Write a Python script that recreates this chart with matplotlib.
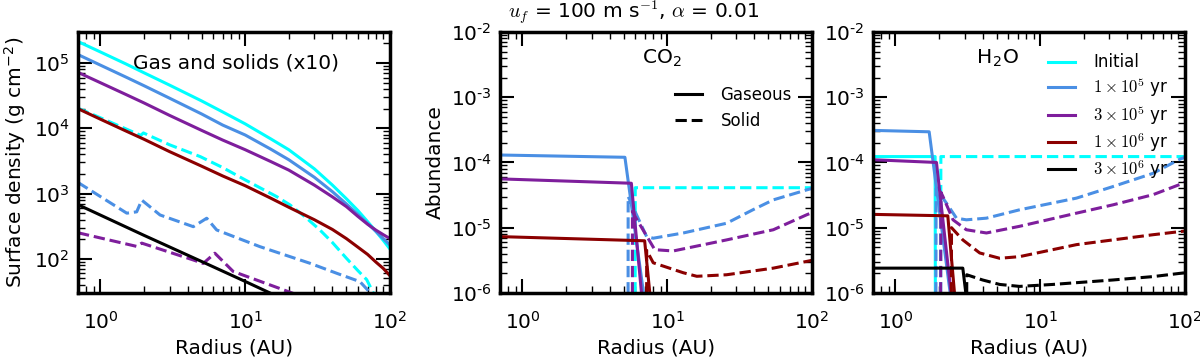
import numpy as np
import matplotlib
matplotlib.use('Agg')
import matplotlib.pyplot as plt
from matplotlib.ticker import FixedLocator, LogLocator, NullFormatter

plt.rcParams['font.family'] = 'DejaVu Sans'
plt.rcParams['font.size'] = 14.5
plt.rcParams['mathtext.fontset'] = 'cm'
plt.rcParams['axes.linewidth'] = 2.5
plt.rcParams['lines.linewidth'] = 2.2
for ax_ in ['xtick', 'ytick']:
    plt.rcParams[ax_ + '.direction'] = 'in'
    plt.rcParams[ax_ + '.major.size'] = 10
    plt.rcParams[ax_ + '.minor.size'] = 5
    plt.rcParams[ax_ + '.major.width'] = 1.5
    plt.rcParams[ax_ + '.minor.width'] = 1.0
plt.rcParams['xtick.top'] = True
plt.rcParams['ytick.right'] = True
plt.rcParams['xtick.major.pad'] = 13
plt.rcParams['ytick.major.pad'] = 6

# colours per time
c_init = 'cyan'
c_1e5 = '#4a8fe4'
c_3e5 = '#7e1e9c'
c_1e6 = '#8b0000'
c_3e6 = 'black'

# ---- panel 1: surface density (gas solid, solids x10 dashed)
r_gas = [0.7, 1, 1.5, 2, 3, 5, 7, 10, 15, 20, 30, 40, 50, 60, 70, 80, 90, 100]
gas_init = [2.14e5, 1.48e5, 9.7e4, 7.1e4, 4.6e4, 2.63e4, 1.78e4, 1.17e4, 6.9e3, 4.7e3,
            2.4e3, 1.35e3, 832, 550, 372, 263, 191, 141]
gas_1e5 = [1.35e5, 9.3e4, 6.1e4, 4.5e4, 2.9e4, 1.66e4, 1.12e4, 7.9e3, 4.8e3, 3.3e3,
           1.78e3, 1.07e3, 692, 479, 347, 263, 204, 162]
gas_3e5 = [7.2e4, 5.0e4, 3.3e4, 2.45e4, 1.58e4, 9.3e3, 6.6e3, 4.7e3, 3.1e3, 2.29e3,
           1.35e3, 891, 631, 447, 339, 275, 234, 204]
gas_1e6 = [2.0e4, 1.38e4, 9.1e3, 6.8e3, 4.4e3, 2.63e3, 1.86e3, 1.32e3, 851, 617,
           398, 282, 204, 151, 117, 89, 71, 55]
r_gas_3e6 = [0.7, 1, 2, 5, 10, 20]
gas_3e6 = [676, 468, 229, 91, 45, 22]

r_sol_init = [0.7, 1.0, 1.9, 1.98, 3.0, 4.9, 7.0, 10, 16.5, 20.4, 26, 32.8, 40, 50, 60, 69, 80]
sol_init = [2.04e4, 1.45e4, 7.8e3, 8.5e3, 5.6e3, 3.68e3, 2.5e3, 1.62e3, 898, 670, 437,
            277, 178, 102, 66, 48, 25]
r_sol_1e5 = [0.7, 1.52, 1.78, 1.93, 2.58, 4.38, 5.42, 6.35, 12.6, 28, 42.9, 62, 79]
sol_1e5 = [1.48e3, 501, 525, 794, 470, 311, 419, 277, 154, 85.5, 60, 44.7, 25]
r_sol_3e5 = [0.7, 1.78, 1.93, 4.38, 5.13, 6.17, 8.26, 22.9]
sol_3e5 = [251, 155, 174, 96, 85, 122, 64, 28]

# ---- panel 2: CO2 abundance
co2_r_gas_1e5 = [0.7, 5.1, 6.95]
co2_gas_1e5 = [1.3e-4, 1.2e-4, 8e-7]
co2_r_gas_3e5 = [0.7, 5.65, 6.7]
co2_gas_3e5 = [5.6e-5, 4.8e-5, 8e-7]
co2_r_gas_1e6 = [0.7, 6.98, 7.65]
co2_gas_1e6 = [7.3e-6, 6.3e-6, 8e-7]
co2_r_ice_init = [6.0, 6.01, 100]
co2_ice_init = [1e-7, 4.1e-5, 4.1e-5]
co2_r_ice_1e5 = [5.36, 5.37, 7.2, 8.0, 12.9, 25.7, 39, 54, 92, 100]
co2_ice_1e5 = [1e-7, 3.0e-5, 7.3e-6, 6.9e-6, 8.3e-6, 1.17e-5, 1.88e-5, 2.67e-5, 3.8e-5, 4.0e-5]
co2_r_ice_3e5 = [5.74, 5.75, 6.0, 8.2, 11, 25.7, 54, 92, 100]
co2_ice_3e5 = [1e-7, 1.78e-5, 1.48e-5, 4.6e-6, 4.4e-6, 6.5e-6, 9.3e-6, 1.58e-5, 1.7e-5]
co2_r_ice_1e6 = [7.2, 7.21, 8.0, 12.9, 16, 25.7, 54, 100]
co2_ice_1e6 = [1e-7, 4.5e-6, 2.9e-6, 2.04e-6, 1.8e-6, 1.9e-6, 2.4e-6, 3.16e-6]

# ---- panel 3: H2O abundance
h2o_r_gas_init = [0.7, 1.88, 1.89]
h2o_gas_init = [1.23e-4, 1.23e-4, 1e-7]
h2o_r_gas_1e5 = [0.7, 1.71, 2.42]
h2o_gas_1e5 = [3.1e-4, 2.95e-4, 8e-7]
h2o_r_gas_3e5 = [0.7, 1.92, 2.45]
h2o_gas_3e5 = [1.1e-4, 1.0e-4, 8e-7]
h2o_r_gas_1e6 = [0.7, 2.3, 2.58]
h2o_gas_1e6 = [1.6e-5, 1.52e-5, 8e-7]
h2o_r_gas_3e6 = [0.7, 2.92, 3.1]
h2o_gas_3e6 = [2.4e-6, 2.4e-6, 8e-7]
h2o_r_ice_init = [2.05, 2.06, 100]
h2o_ice_init = [1e-7, 1.23e-4, 1.23e-4]
h2o_r_ice_1e5 = [1.9, 1.91, 2.25, 2.64, 3.09, 4.25, 7.2, 17.8, 31.8, 60, 92, 100]
h2o_ice_1e5 = [1e-7, 4.0e-5, 2.38e-5, 1.4e-5, 1.32e-5, 1.4e-5, 1.88e-5, 2.84e-5, 4.27e-5, 6.8e-5, 1.12e-4, 1.2e-4]
h2o_r_ice_3e5 = [2.05, 2.06, 2.13, 2.5, 3.09, 4.25, 7.2, 17.8, 31.8, 60, 97, 100]
h2o_ice_3e5 = [1e-7, 3.5e-5, 3.0e-5, 1.32e-5, 9.3e-6, 8.3e-6, 1.05e-5, 1.67e-5, 2.24e-5, 3.2e-5, 4.8e-5, 5.0e-5]
h2o_r_ice_1e6 = [2.43, 2.44, 2.92, 3.82, 5.25, 7.2, 17.8, 31.8, 60, 100]
h2o_ice_1e6 = [1e-7, 1.0e-5, 6.5e-6, 4.1e-6, 3.4e-6, 3.6e-6, 5.5e-6, 6.5e-6, 7.8e-6, 8.9e-6]
h2o_r_ice_3e6 = [3.1, 3.11, 4.0, 5.25, 7.2, 12.2, 31.8, 60, 100]
h2o_ice_3e6 = [1e-7, 1.9e-6, 1.58e-6, 1.35e-6, 1.26e-6, 1.35e-6, 1.58e-6, 1.78e-6, 2.04e-6]

abund_ticks = [1e-6, 1e-5, 1e-4, 1e-3, 1e-2]
abund_labels = [r'$\mathdefault{10^{‐6}}$', r'$\mathdefault{10^{‐5}}$', r'$\mathdefault{10^{‐4}}$',
                r'$\mathdefault{10^{‐3}}$', r'$\mathdefault{10^{‐2}}$']
time_labels = ['Initial', r'$1\times10^5$ yr', r'$3\times10^5$ yr',
               r'$1\times10^6$ yr', r'$3\times10^6$ yr']

fig = plt.figure(figsize=(12, 3.59), dpi=100)
ax1 = fig.add_axes([0.065, 0.184, 0.26, 0.727])
ax2 = fig.add_axes([0.4167, 0.184, 0.26, 0.727])
ax3 = fig.add_axes([0.7275, 0.184, 0.26, 0.727])

for ax in [ax1, ax2, ax3]:
    ax.set_xscale('log')
    ax.set_yscale('log')
    ax.set_xlim(0.7, 100)
    ax.xaxis.set_minor_locator(LogLocator(subs=np.arange(2, 10)))
    ax.xaxis.set_minor_formatter(NullFormatter())
    ax.set_xlabel('Radius (AU)', labelpad=4)

# panel 1
ax1.plot(r_gas, gas_init, color=c_init)
ax1.plot(r_sol_init, sol_init, color=c_init, ls='--')
ax1.plot(r_gas, gas_1e5, color=c_1e5)
ax1.plot(r_sol_1e5, sol_1e5, color=c_1e5, ls='--')
ax1.plot(r_gas, gas_3e5, color=c_3e5)
ax1.plot(r_sol_3e5, sol_3e5, color=c_3e5, ls='--')
ax1.plot(r_gas, gas_1e6, color=c_1e6)
ax1.plot(r_gas_3e6, gas_3e6, color=c_3e6)
ax1.set_ylim(30, 3e5)
ax1.yaxis.set_minor_locator(LogLocator(subs=np.arange(2, 10)))
ax1.yaxis.set_minor_formatter(NullFormatter())
ax1.set_ylabel(r'Surface density (g cm$^{\mathdefault{-2}}$)', labelpad=4)
ax1.text(0.177, 0.861, 'Gas and solids (x10)', transform=ax1.transAxes)

# panel 2
ax2.plot(co2_r_ice_init, co2_ice_init, color=c_init, ls='--')
ax2.plot(co2_r_gas_1e5, co2_gas_1e5, color=c_1e5)
ax2.plot(co2_r_ice_1e5, co2_ice_1e5, color=c_1e5, ls='--')
ax2.plot(co2_r_gas_3e5, co2_gas_3e5, color=c_3e5)
ax2.plot(co2_r_ice_3e5, co2_ice_3e5, color=c_3e5, ls='--')
ax2.plot(co2_r_gas_1e6, co2_gas_1e6, color=c_1e6)
ax2.plot(co2_r_ice_1e6, co2_ice_1e6, color=c_1e6, ls='--')
ax2.set_ylabel('Abundance', labelpad=4)
ax2.text(0.454, 0.88, r'CO$_{\mathdefault{2}}$', transform=ax2.transAxes)
ax2.text(0.026, 1.052, r'$u_f$ = 100 m s$^{-1}$, $\alpha$ = 0.01', transform=ax2.transAxes)
h_gas, = ax2.plot([], [], color='black', ls='-')
h_sol, = ax2.plot([], [], color='black', ls='--')
ax2.legend([h_gas, h_sol], ['Gaseous', 'Solid'], frameon=False, fontsize=12,
           loc='upper left', bbox_to_anchor=(0.514, 0.85), handlelength=1.6,
           handletextpad=1.1, labelspacing=0.45)

# panel 3
l0, = ax3.plot(h2o_r_gas_init, h2o_gas_init, color=c_init)
ax3.plot(h2o_r_ice_init, h2o_ice_init, color=c_init, ls='--')
l1, = ax3.plot(h2o_r_gas_1e5, h2o_gas_1e5, color=c_1e5)
ax3.plot(h2o_r_ice_1e5, h2o_ice_1e5, color=c_1e5, ls='--')
l2, = ax3.plot(h2o_r_gas_3e5, h2o_gas_3e5, color=c_3e5)
ax3.plot(h2o_r_ice_3e5, h2o_ice_3e5, color=c_3e5, ls='--')
l3, = ax3.plot(h2o_r_gas_1e6, h2o_gas_1e6, color=c_1e6)
ax3.plot(h2o_r_ice_1e6, h2o_ice_1e6, color=c_1e6, ls='--')
l4, = ax3.plot(h2o_r_gas_3e6, h2o_gas_3e6, color=c_3e6)
ax3.plot(h2o_r_ice_3e6, h2o_ice_3e6, color=c_3e6, ls='--')
ax3.text(0.331, 0.88, r'H$_{\mathdefault{2}}$O', transform=ax3.transAxes)
ax3.legend([l0, l1, l2, l3, l4], time_labels, frameon=False, fontsize=12,
           loc='upper left', bbox_to_anchor=(0.513, 0.975), handlelength=1.6,
           handletextpad=1.1, labelspacing=0.25)

for ax in [ax2, ax3]:
    ax.set_ylim(1e-6, 1e-2)
    ax.yaxis.set_major_locator(FixedLocator(abund_ticks))
    ax.set_yticklabels(abund_labels)
    ax.yaxis.set_minor_locator(LogLocator(subs=np.arange(2, 10)))
    ax.yaxis.set_minor_formatter(NullFormatter())

fig.savefig('out.png', dpi=100)
